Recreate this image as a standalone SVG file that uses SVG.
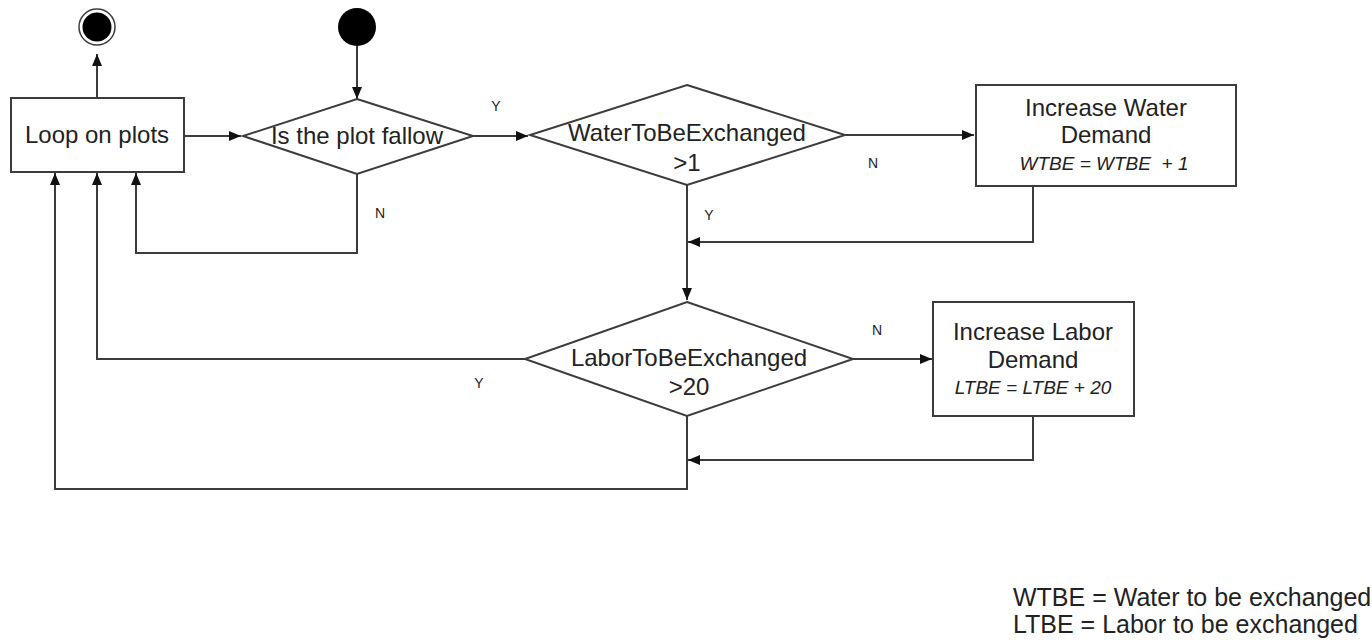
<svg xmlns="http://www.w3.org/2000/svg" width="1372" height="640" viewBox="0 0 1372 640">
  <style>
    .shape { fill: #ffffff; stroke: #3c3c3c; stroke-width: 2; }
    .edge { fill: none; stroke: #3c3c3c; stroke-width: 2; }
    .lbl { font-family: "Liberation Sans", Arial, sans-serif; font-size: 24px; fill: #222; text-anchor: middle; }
    .formula { font-family: "Liberation Sans", Arial, sans-serif; font-size: 19px; font-style: italic; fill: #222; text-anchor: middle; }
    .yn { font-family: "Liberation Sans", Arial, sans-serif; font-size: 14px; fill: #222; text-anchor: middle; }
    .legend { font-family: "Liberation Sans", Arial, sans-serif; font-size: 25px; fill: #222; }
  </style>
  <defs>
    <marker id="arrow" viewBox="0 0 12 10" refX="12" refY="5" markerWidth="12" markerHeight="10" markerUnits="userSpaceOnUse" orient="auto">
      <path d="M0,0 L12,5 L0,10 Z" fill="#111"/>
    </marker>
  </defs>
  <rect width="1372" height="640" fill="#ffffff"/>

  <!-- connectors -->
  <g id="connectors">
    <path class="edge" d="M97,98 V54" marker-end="url(#arrow)"/>
    <path class="edge" d="M357,46 V99" marker-end="url(#arrow)"/>
    <path class="edge" d="M184,136 H241" marker-end="url(#arrow)"/>
    <path class="edge" d="M357,174 V253 H136 V173" marker-end="url(#arrow)"/>
    <path class="edge" d="M473,136 H528" marker-end="url(#arrow)"/>
    <path class="edge" d="M845,135 H974" marker-end="url(#arrow)"/>
    <path class="edge" d="M1033,186 V242 H688" marker-end="url(#arrow)"/>
    <path class="edge" d="M687,185 V300" marker-end="url(#arrow)"/>
    <path class="edge" d="M525,359 H97 V173" marker-end="url(#arrow)"/>
    <path class="edge" d="M853,359 H932" marker-end="url(#arrow)"/>
    <path class="edge" d="M1033,416 V460 H688" marker-end="url(#arrow)"/>
    <path class="edge" d="M687,416 V489 H55 V173" marker-end="url(#arrow)"/>
    <text class="yn" x="496" y="111">Y</text>
    <text class="yn" x="873" y="168">N</text>
    <text class="yn" x="380" y="218">N</text>
    <text class="yn" x="709" y="220">Y</text>
    <text class="yn" x="877" y="335">N</text>
    <text class="yn" x="479" y="388">Y</text>
  </g>

  <!-- final node -->
  <g id="final">
    <circle cx="97" cy="27" r="18" fill="#ffffff" stroke="#3c3c3c" stroke-width="1.5"/>
    <circle cx="97" cy="27" r="14.5" fill="#000000"/>
  </g>

  <!-- initial node -->
  <g id="start">
    <circle cx="357" cy="27" r="19" fill="#000000"/>
  </g>

  <g id="loop">
    <rect class="shape" x="11" y="98" width="173" height="74"/>
    <text class="lbl" x="97" y="143">Loop on plots</text>
  </g>

  <g id="fallow">
    <polygon class="shape" points="357,99 473,136 357,174 243,136"/>
    <text class="lbl" x="357" y="144">Is the plot fallow</text>
  </g>

  <g id="water-check">
    <polygon class="shape" points="687,85 845,135 687,185 530,135"/>
    <text class="lbl" x="687" y="141">WaterToBeExchanged</text>
    <text class="lbl" x="687" y="171">&gt;1</text>
  </g>

  <g id="water-demand">
    <rect class="shape" x="976" y="85" width="260" height="101"/>
    <text class="lbl" x="1106" y="116">Increase Water</text>
    <text class="lbl" x="1106" y="143">Demand</text>
    <text class="formula" x="1104" y="170" xml:space="preserve">WTBE = WTBE  + 1</text>
  </g>

  <g id="labor-check">
    <polygon class="shape" points="687,302 853,359 687,416 525,359"/>
    <text class="lbl" x="689" y="366">LaborToBeExchanged</text>
    <text class="lbl" x="689" y="395">&gt;20</text>
  </g>

  <g id="labor-demand">
    <rect class="shape" x="933" y="302" width="201" height="114"/>
    <text class="lbl" x="1033" y="340">Increase Labor</text>
    <text class="lbl" x="1033" y="368">Demand</text>
    <text class="formula" x="1033" y="394">LTBE = LTBE + 20</text>
  </g>

  <g id="legend">
    <text class="legend" x="1013" y="606">WTBE = Water to be exchanged</text>
    <text class="legend" x="1013" y="633">LTBE = Labor to be exchanged</text>
  </g>
</svg>
